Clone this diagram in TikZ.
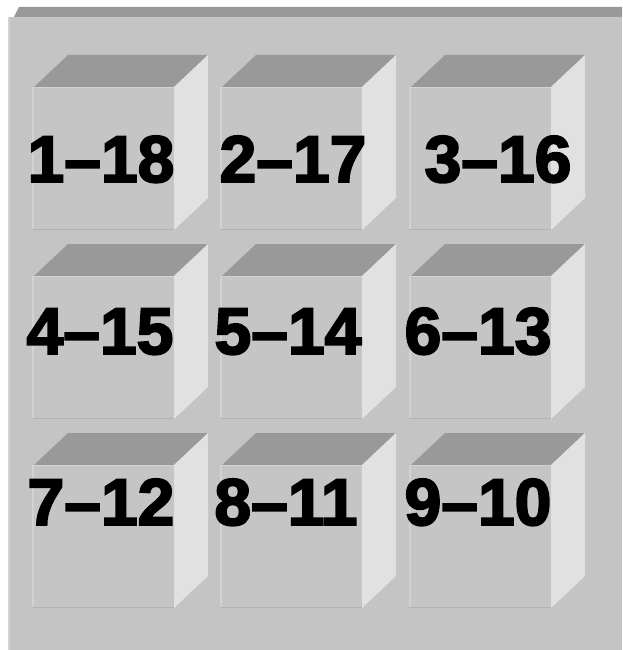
\documentclass[tikz,border=0pt]{standalone}
\usepackage{fontspec}
\setmainfont{Liberation Sans}
\newfontfamily\heavyfont[FakeBold=3]{Liberation Sans Bold}
\definecolor{panel}{HTML}{C4C4C4}
\definecolor{topf}{HTML}{999999}
\definecolor{sidef}{HTML}{E1E1E1}
\definecolor{frontf}{HTML}{C5C5C5}
\definecolor{litedge}{HTML}{D2D2D2}
\definecolor{darkedge}{HTML}{B2B2B2}
\tikzset{
  lbl/.style={anchor=base, inner sep=0pt, font=\fontsize{66}{66}\heavyfont, text=black},
}
\newcommand{\mybox}[3]{% name, x0, y0
  \fill[topf] (#2+2,#3) -- (#2+142,#3) -- (#2+176,#3-32) -- (#2+36,#3-32) -- cycle;
  \fill[sidef] (#2+142,#3) -- (#2+176,#3-32) -- (#2+176,#3+111) -- (#2+142,#3+143) -- cycle;
  \fill[frontf] (#2,#3) rectangle (#2+142,#3+143);
  \draw[litedge, line width=1.5pt] (#2+0.75,#3+143) -- (#2+0.75,#3+1);
  \draw[litedge, line width=1pt] (#2,#3+0.5) -- (#2+142,#3+0.5);
  \draw[darkedge, line width=1.5pt] (#2,#3+142.25) -- (#2+142,#3+142.25);
  \coordinate (#1) at (#2+71,#3+71);
}
\begin{document}
\begin{tikzpicture}[x=1pt,y=-1pt]
\useasboundingbox (0,0) rectangle (622,650);
\fill[white] (0,0) rectangle (622,650);
% panel
\fill[topf] (19,7) -- (622,7) -- (622,17) -- (14,17) -- cycle;
\fill[panel] (8,17) rectangle (622,650);
\fill[litedge] (8,17) rectangle (10,650);
% boxes
\mybox{b1}{32}{87}
\mybox{b2}{220}{87}
\mybox{b3}{409}{87}
\mybox{b4}{32}{276}
\mybox{b5}{220}{276}
\mybox{b6}{409}{276}
\mybox{b7}{32}{465}
\mybox{b8}{220}{465}
\mybox{b9}{409}{465}
% labels
\node[lbl] (t1) at (101,182) {1–18};
\node[lbl] (t2) at (293,182) {2–17};
\node[lbl] (t3) at (498,182) {3–16};
\node[lbl] (t4) at (100,354) {4–15};
\node[lbl] (t5) at (288,354) {5–14};
\node[lbl] (t6) at (478,354) {6–13};
\node[lbl] (t7) at (101,525) {7–12};
\node[lbl] (t8) at (286,525) {8–11};
\node[lbl] (t9) at (478,525) {9–10};
\end{tikzpicture}
\end{document}
